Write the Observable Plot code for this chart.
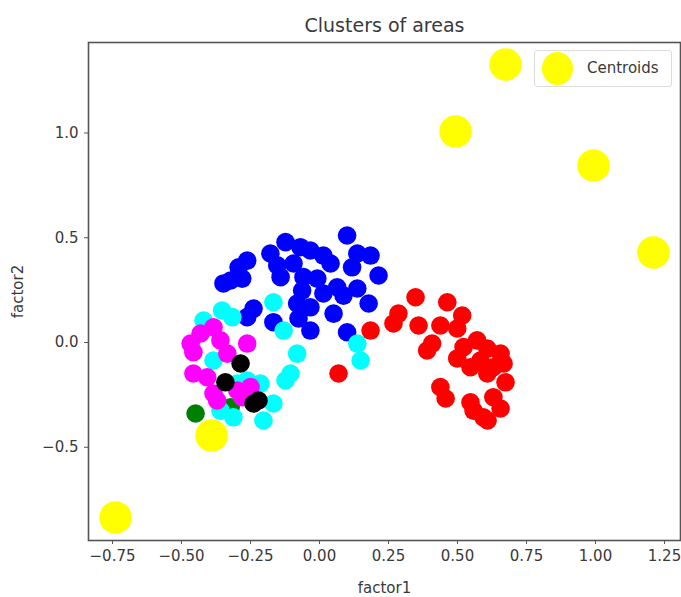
<!DOCTYPE html>
<html><head><meta charset="utf-8">
<script src="https://cdn.jsdelivr.net/npm/d3@7"></script>
<script src="https://cdn.jsdelivr.net/npm/@observablehq/plot@0.6"></script>
<style>
body{margin:0;background:#fff;font-family:"DejaVu Sans",sans-serif}
#wrap{position:relative;width:681px;height:597px}
.legend{position:absolute;left:534px;top:50px;width:138px;height:37px;border:1px solid #dcdcdc;border-radius:3px;background:rgba(255,255,255,0.85);box-sizing:border-box}
.legend .sw{position:absolute;left:7px;top:1px;width:31px;height:33px;border-radius:50%;background:#ffff00}
.legend .lb{position:absolute;left:52px;top:8px;font-size:15px;color:#3a3a3a;font-family:"DejaVu Sans",sans-serif}
</style></head><body><div id="wrap"></div>
<script>
const clusterNames = ["red","blue","green","cyan","magenta","black"];
const clusterColors = ["#f00000","#0000cc","#007a10","#10ecec","#f000f0","#000000"];
const redPts = [[0.348,0.216],[0.463,0.192],[0.286,0.138],[0.517,0.129],[0.268,0.091],[0.359,0.081],[0.185,0.057],[0.438,0.081],[0.499,0.067],[0.571,0.010],[0.408,-0.005],[0.390,-0.038],[0.522,-0.022],[0.608,-0.029],[0.656,-0.053],[0.499,-0.076],[0.583,-0.086],[0.547,-0.118],[0.630,-0.118],[0.667,-0.100],[0.608,-0.148],[0.674,-0.190],[0.438,-0.213],[0.457,-0.267],[0.547,-0.285],[0.630,-0.261],[0.656,-0.315],[0.594,-0.357],[0.609,-0.372],[0.558,-0.325],[0.069,-0.148]];
const bluePts = [[0.100,0.511],[-0.123,0.479],[-0.069,0.455],[-0.033,0.439],[-0.178,0.425],[0.014,0.415],[0.137,0.425],[0.185,0.415],[-0.262,0.391],[-0.293,0.359],[-0.153,0.368],[-0.094,0.377],[0.040,0.377],[0.118,0.359],[0.214,0.320],[-0.322,0.296],[-0.280,0.305],[-0.141,0.312],[-0.058,0.312],[-0.008,0.305],[0.064,0.264],[0.137,0.258],[-0.348,0.282],[-0.063,0.248],[0.014,0.234],[0.087,0.224],[0.178,0.186],[-0.239,0.162],[-0.262,0.121],[-0.081,0.186],[-0.033,0.168],[0.051,0.138],[-0.076,0.115],[-0.167,0.097],[-0.033,0.057],[0.100,0.049]];
const greenPts = [[-0.449,-0.339],[-0.322,-0.309]];
const cyanPts = [[-0.167,0.192],[-0.353,0.153],[-0.316,0.121],[-0.420,0.105],[-0.130,0.057],[0.137,-0.005],[0.149,-0.086],[-0.081,-0.053],[-0.105,-0.148],[-0.123,-0.181],[-0.384,-0.086],[-0.262,-0.181],[-0.214,-0.196],[-0.298,-0.196],[-0.167,-0.291],[-0.203,-0.372],[-0.312,-0.357],[-0.359,-0.325]];
const magentaPts = [[-0.384,0.073],[-0.431,0.043],[-0.467,-0.005],[-0.457,-0.046],[-0.359,0.010],[-0.262,-0.005],[-0.334,-0.053],[-0.457,-0.148],[-0.407,-0.166],[-0.384,-0.243],[-0.371,-0.277],[-0.298,-0.229],[-0.280,-0.261],[-0.250,-0.213]];
const blackPts = [[-0.286,-0.100],[-0.341,-0.190],[-0.239,-0.291],[-0.221,-0.277]];
const centroidX = [-0.739,-0.391,0.493,0.674,0.993,1.210];
const centroidY = [-0.835,-0.444,1.007,1.327,0.845,0.430];
const xTicks = [-0.75,-0.5,-0.25,0,0.25,0.5,0.75,1.0,1.25];
const yTicks = [-0.5,0,0.5,1.0];
const titleText = "Clusters of areas";
const xLabel = "factor1", yLabel = "factor2", legendLabel = "Centroids";

const groups = [redPts,bluePts,greenPts,cyanPts,magentaPts,blackPts];
const points = groups.flatMap((g,i) => g.map(([x,y]) => ({x,y,cluster:clusterNames[i]})));
const centroids = centroidX.map((x,i) => ({x, y:centroidY[i]}));
const fmt = (d, n) => (d < 0 ? "\u2212" : "") + Math.abs(d).toFixed(n);

const chart = Plot.plot({
  width: 681, height: 597,
  marginLeft: 88, marginRight: 1, marginTop: 42, marginBottom: 57,
  style: {fontFamily: "DejaVu Sans, sans-serif", fontSize: "15px", color: "#3a3a3a", background: "#fff"},
  x: {domain: [-0.837, 1.308]},
  y: {domain: [-0.945, 1.432]},
  color: {domain: clusterNames, range: clusterColors},
  marks: [
    Plot.dot(points, {x: "x", y: "y", r: 9.3, fill: "cluster"}),
    Plot.dot(centroids, {x: "x", y: "y", r: 16.3, fill: "#ffff00"}),
    Plot.frame({stroke: "#555", strokeWidth: 1.6}),
    Plot.axisX({ticks: xTicks, tickFormat: d => fmt(d, 2), tickSize: 4, tickPadding: 6, stroke: "#555", fontSize: 15,
      label: xLabel, labelAnchor: "center", labelArrow: "none", labelOffset: 52}),
    Plot.axisY({ticks: yTicks, tickFormat: d => fmt(d, 1), tickSize: 4, tickPadding: 6, stroke: "#555", fontSize: 15,
      label: yLabel, labelAnchor: "center", labelArrow: "none", labelOffset: 76}),
    Plot.text([titleText], {frameAnchor: "top", dy: -24, fontSize: 19, fill: "#3a3a3a"})
  ]
});
const wrap = document.getElementById("wrap");
wrap.appendChild(chart);
const lg = document.createElement("div");
lg.className = "legend";
lg.innerHTML = '<div class="sw"></div><div class="lb"></div>';
lg.querySelector(".lb").textContent = legendLabel;
wrap.appendChild(lg);
</script>
</body></html>
